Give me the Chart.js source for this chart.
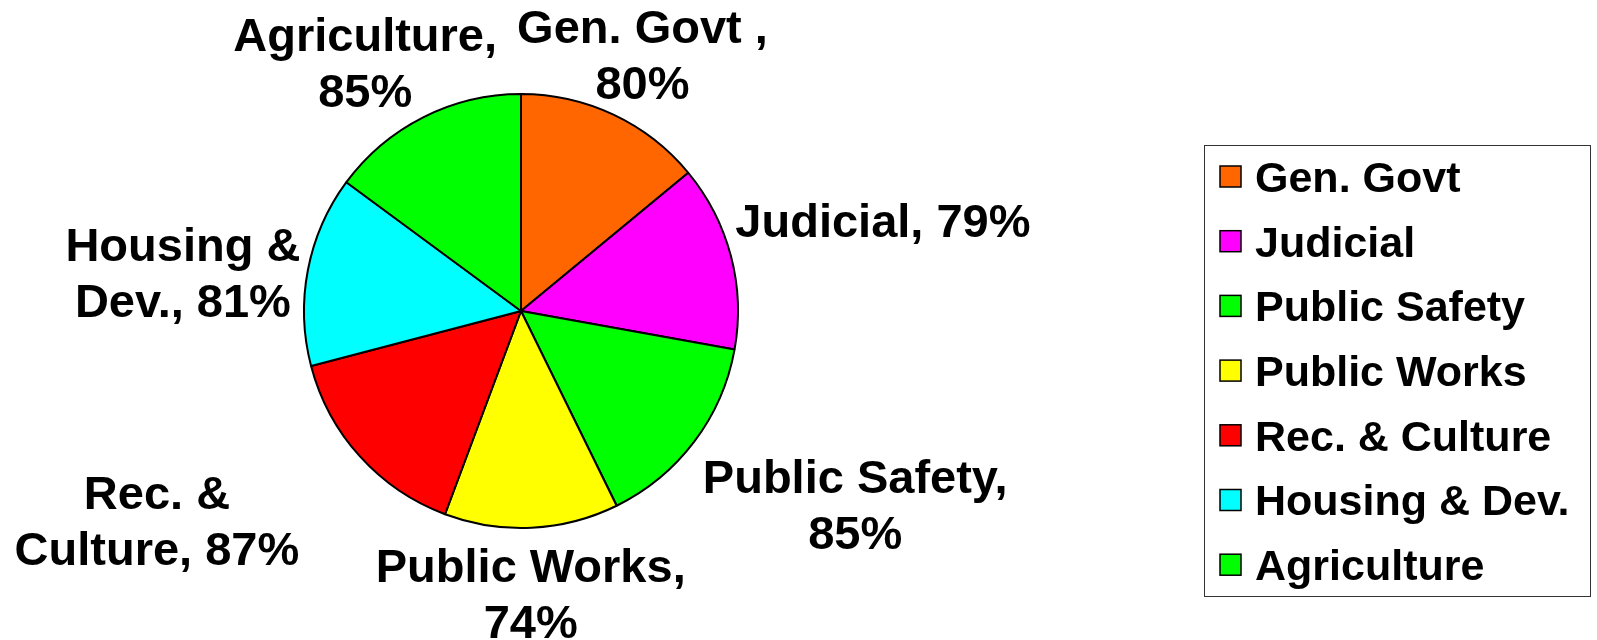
<!DOCTYPE html>
<html lang="en">
<head>
    <meta charset="UTF-8">
    <title>Budget Pie</title>
    <script src="https://cdn.jsdelivr.net/npm/chart.js"></script>
    <style>
        body { margin: 0; background: #fff; }
        #wrap { width: 1597px; height: 640px; position: relative; }
    </style>
</head>
<body>
    <div id="wrap"><canvas id="pieChart"></canvas></div>

    <script>
        // chart data
        const categories = ['Gen. Govt', 'Judicial', 'Public Safety', 'Public Works', 'Rec. & Culture', 'Housing & Dev.', 'Agriculture'];
        const percentages = [80, 79, 85, 74, 87, 81, 85];
        // slice label text, {v} is replaced by the value
        const sliceLabels = ['Gen. Govt ,\n{v}%', 'Judicial, {v}%', 'Public Safety,\n{v}%', 'Public Works,\n{v}%', 'Rec. &\nCulture, {v}%', 'Housing &\nDev., {v}%', 'Agriculture,\n{v}%'];

        const sliceColors = ['#FF6600', '#FF00FF', '#00FF00', '#FFFF00', '#FF0000', '#00FFFF', '#00FF00'];
        const FONT = '"Liberation Sans", Arial, sans-serif';

        // labels outside the slices, placed from each arc's mid angle
        const outsideLabels = {
            id: 'outsideLabels',
            afterDatasetsDraw(chart, args, opts) {
                const ctx = chart.ctx;
                const meta = chart.getDatasetMeta(0);
                const size = opts.fontSize;
                const lh = opts.lineHeight;
                const capH = size * 0.716;
                ctx.save();
                ctx.font = 'bold ' + size + 'px ' + FONT;
                ctx.fillStyle = '#000';
                ctx.textAlign = 'center';
                ctx.textBaseline = 'alphabetic';
                meta.data.forEach((arc, i) => {
                    const p = arc.getProps(['x', 'y', 'startAngle', 'endAngle', 'outerRadius'], true);
                    const mid = (p.startAngle + p.endAngle) / 2;
                    const ax = p.x + Math.cos(mid) * p.outerRadius;
                    const ay = p.y + Math.sin(mid) * p.outerRadius;
                    const off = opts.offsets[i];
                    const cx = ax + off[0];
                    const cy = ay + off[1];
                    const lines = sliceLabels[i].replace('{v}', chart.data.datasets[0].data[i]).split('\n');
                    lines.forEach((ln, k) => {
                        const by = cy - (lines.length - 1) * lh / 2 + capH / 2 + k * lh;
                        ctx.fillText(ln, cx, by);
                    });
                });
                ctx.restore();
            }
        };

        // boxed legend on the right
        const boxLegend = {
            id: 'boxLegend',
            afterDraw(chart, args, opts) {
                const ctx = chart.ctx;
                const ds = chart.data.datasets[0];
                ctx.save();
                ctx.strokeStyle = '#333';
                ctx.lineWidth = 1;
                ctx.strokeRect(opts.left + 0.5, opts.top + 0.5, opts.width, opts.height);
                ctx.font = 'bold ' + opts.fontSize + 'px ' + FONT;
                ctx.textBaseline = 'alphabetic';
                ctx.textAlign = 'left';
                const capH = opts.fontSize * 0.716;
                chart.data.labels.forEach((lab, i) => {
                    const cy = opts.firstY + i * opts.step;
                    const b = opts.box;
                    ctx.fillStyle = ds.backgroundColor[i];
                    ctx.fillRect(opts.boxX, cy - b / 2, b, b);
                    ctx.strokeStyle = '#000';
                    ctx.lineWidth = 1.5;
                    ctx.strokeRect(opts.boxX, cy - b / 2, b, b);
                    ctx.fillStyle = '#000';
                    ctx.fillText(lab, opts.textX, cy + capH / 2);
                });
                ctx.restore();
            }
        };

        new Chart(document.getElementById('pieChart'), {
            type: 'pie',
            data: {
                labels: categories,
                datasets: [{
                    data: percentages,
                    backgroundColor: sliceColors,
                    borderColor: '#000',
                    borderWidth: 2
                }]
            },
            options: {
                responsive: true,
                maintainAspectRatio: false,
                animation: false,
                layout: { padding: { left: 303, right: 858, top: 93, bottom: 111 } },
                plugins: {
                    legend: { display: false },
                    tooltip: { enabled: false },
                    outsideLabels: {
                        fontSize: 47,
                        lineHeight: 56,
                        offsets: [[29, -61], [152, -36], [161, 62], [-1, 65], [-203, 64], [-125, 2], [-58, -55]]
                    },
                    boxLegend: {
                        left: 1204, top: 145, width: 386, height: 451,
                        boxX: 1220, box: 21, textX: 1255,
                        firstY: 176.5, step: 64.7, fontSize: 43
                    }
                }
            },
            plugins: [outsideLabels, boxLegend]
        });
    </script>
</body>
</html>
